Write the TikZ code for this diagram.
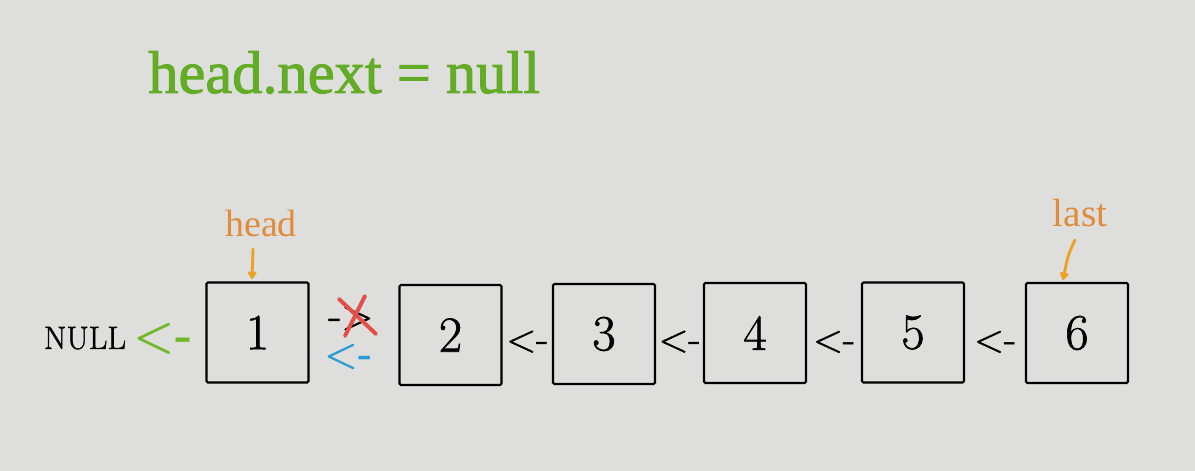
\documentclass[tikz,border=0pt]{standalone}
\usepackage{fontspec}
\newfontfamily\serifB{Liberation Serif}
\newfontfamily\serifM[FakeBold=1.6]{Liberation Serif}
\newfontfamily\lmheavy[FakeBold=1.2]{Latin Modern Roman}
\usetikzlibrary{arrows.meta,calc}
\definecolor{bgc}{RGB}{222,222,220}
\definecolor{titlegreen}{RGB}{98,172,38}
\definecolor{nullgreen}{RGB}{110,185,40}
\definecolor{lbl}{RGB}{224,140,62}
\definecolor{ptrc}{RGB}{236,160,36}
\definecolor{bluec}{RGB}{38,155,212}
\definecolor{redc}{RGB}{226,78,72}
\begin{document}
\begin{tikzpicture}[x=0.025cm,y=-0.025cm,
  box/.style={draw=black, line width=1.6pt, minimum width=2.55cm, minimum height=2.5cm,
    inner sep=0pt, rounded corners=1pt, font=\lmheavy\fontsize{36}{40}\selectfont},
  lnk/.style={font=\lmheavy\fontsize{28}{30}\selectfont, inner sep=0pt, anchor=base},
  lab/.style={font=\serifB\fontsize{27}{30}\selectfont, text=lbl, inner sep=0pt, anchor=base},
  ptr/.style={draw=ptrc, line width=2pt, line cap=round, -{Triangle[round,length=6pt,width=7pt]}}]
\fill[bgc] (0,0) rectangle (1195,471);
\useasboundingbox (0,0) rectangle (1195,471);

% title
\node[font=\serifM\fontsize{43}{46}\selectfont, text=titlegreen, anchor=base west, inner sep=0pt]
  (title) at (148,93) {head.next = null};

% boxes
\node[box] (b1) at (257.5,332.5) {1};
\node[box] (b2) at (450.5,335) {2};
\node[box] (b3) at (604,334) {3};
\node[box] (b4) at (755,333) {4};
\node[box] (b5) at (913,332.5) {5};
\node[box] (b6) at (1077,333) {6};

% links
\node[lnk] (l23) at ($(b2.east)!0.5!(b3.west)+(0,17)$) {<-};
\node[lnk] (l34) at ($(b3.east)!0.5!(b4.west)+(0,18)$) {<-};
\node[lnk] (l45) at ($(b4.east)!0.5!(b5.west)+(0,19)$) {<-};
\node[lnk] (l56) at ($(b5.east)!0.5!(b6.west)+(0,19)$) {<-};

% NULL and green arrow
\node[font=\lmheavy\fontsize{23}{26}\selectfont, inner sep=0pt, anchor=base] (null) at (85,349) {NULL};
\node[font=\bfseries\fontsize{33}{34}\selectfont, text=nullgreen, inner sep=0pt, anchor=base] (gl) at (163,350) {<-};

% old link (crossed) and new link
\node[font=\lmheavy\fontsize{30}{32}\selectfont, inner sep=0pt, anchor=base] (old) at (351,329) {->};
\draw[redc, line width=2.8pt, line cap=round] (339,299) -- (376,334);
\draw[redc, line width=2.8pt, line cap=round] (365,296) -- (345,336);
\node[font=\bfseries\fontsize{27}{30}\selectfont, text=bluec, inner sep=0pt, anchor=base] (new) at (348.5,366) {<-};

% pointers
\node[lab] (hd) at (261,237) {head};
\node[lab, font=\serifB\fontsize{28}{30}\selectfont] (ls) at (1080,227) {last};
\coordinate (hdt) at (253,249);
\coordinate (hdh) at (252,279);
\draw[ptr] (hdt) -- (hdh);
\coordinate (lst) at (1075,240);
\coordinate (lsh) at (1063,280);
\draw[ptr] (lst) .. controls (1068,255) .. (lsh);
\end{tikzpicture}
\end{document}
